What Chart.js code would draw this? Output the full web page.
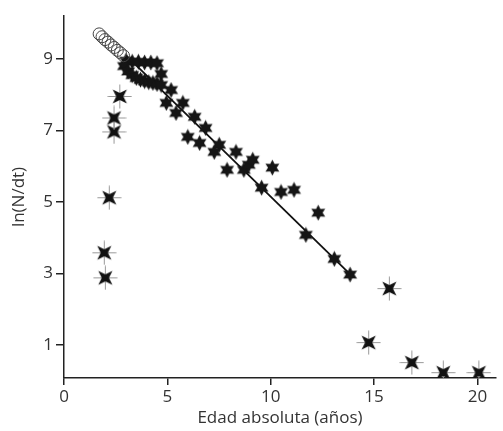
<!DOCTYPE html>
<html><head><meta charset="utf-8">
<script src="https://cdn.jsdelivr.net/npm/chart.js@4"></script>
<style>html,body{margin:0;padding:0;background:#fff;}canvas{display:block;}</style>
</head><body>
<canvas id="c" width="503" height="431"></canvas>
<script>
// Open circles (early ages)
const circleX = [1.70, 1.84, 1.98, 2.13, 2.28, 2.43, 2.58, 2.73, 2.88];
const circleY = [9.70, 9.62, 9.54, 9.47, 9.39, 9.32, 9.24, 9.17, 9.09];
// Small six-pointed stars
const starX = [3.0, 3.3, 3.6, 3.9, 4.2, 4.5,
               2.9, 3.1, 3.3, 3.5, 3.7, 3.9, 4.1, 4.3, 4.5, 4.7,
               4.7, 5.18, 4.95, 5.75, 5.42, 6.32, 6.85, 5.99, 6.56, 7.51, 7.27, 8.32,
               7.89, 8.7, 8.94, 9.13, 10.08, 9.56, 10.5, 11.13, 12.3, 11.7, 13.08, 13.84];
const starY = [8.95, 8.92, 8.92, 8.90, 8.90, 8.88,
               8.80, 8.65, 8.55, 8.47, 8.42, 8.38, 8.35, 8.33, 8.30, 8.27,
               8.58, 8.13, 7.77, 7.77, 7.49, 7.38, 7.07, 6.82, 6.65, 6.60, 6.40, 6.40,
               5.90, 5.90, 6.04, 6.18, 5.96, 5.40, 5.28, 5.34, 4.70, 4.08, 3.41, 2.97];
// Large four-pointed stars (outliers)
const bigX = [1.95, 2.00, 2.19, 2.42, 2.42, 2.70, 14.74, 15.74, 16.83, 18.35, 20.07];
const bigY = [3.58, 2.88, 5.12, 6.96, 7.35, 7.95, 1.07, 2.58, 0.51, 0.23, 0.23];
// Fitted line end points
const fitX = [3.0, 13.9];
const fitY = [9.10, 2.95];
// Axis ticks
const xTicks = [0, 5, 10, 15, 20];
const yTicks = [1, 3, 5, 7, 9];

const pts = (xs, ys) => xs.map((x, i) => ({x: x, y: ys[i]}));

function hexStar() {
  const c = document.createElement('canvas'); c.width = 17; c.height = 17;
  const g = c.getContext('2d'); g.fillStyle = '#151515'; g.beginPath();
  for (let i = 0; i < 12; i++) {
    const r = i % 2 === 0 ? 8 : 4.4; const a = -Math.PI / 2 + i * Math.PI / 6;
    const px = 8.5 + r * Math.cos(a), py = 8.5 + r * Math.sin(a);
    i ? g.lineTo(px, py) : g.moveTo(px, py);
  }
  g.closePath(); g.fill(); return c;
}
function bigStar() {
  const c = document.createElement('canvas'); c.width = 25; c.height = 25;
  const g = c.getContext('2d'); const m = 12.5;
  g.strokeStyle = '#999'; g.lineWidth = 1;
  g.beginPath(); g.moveTo(m, 0.5); g.lineTo(m, 24.5); g.moveTo(0.5, m); g.lineTo(24.5, m); g.stroke();
  g.fillStyle = '#111'; g.beginPath();
  for (let i = 0; i < 8; i++) {
    const r = i % 2 === 0 ? 10 : 3.6; const a = -Math.PI / 4 + i * Math.PI / 4;
    const px = m + r * Math.cos(a), py = m + r * Math.sin(a);
    i ? g.lineTo(px, py) : g.moveTo(px, py);
  }
  g.closePath(); g.fill(); return c;
}

const tickFont = {family: "'Open Sans', sans-serif", size: 17};
new Chart(document.getElementById('c'), {
  type: 'scatter',
  data: {datasets: [
    {data: pts(circleX, circleY), pointStyle: 'circle', pointRadius: 6, borderColor: '#444', backgroundColor: 'rgba(0,0,0,0)', borderWidth: 1, order: 0},
    {data: pts(starX, starY), pointStyle: hexStar(), order: 1},
    {data: pts(bigX, bigY), pointStyle: bigStar(), order: 2},
    {data: pts(fitX, fitY), showLine: true, pointRadius: 0, borderColor: '#111', borderWidth: 1.8, order: 3}
  ]},
  options: {
    responsive: false, animation: false,
    layout: {padding: {top: 16, right: 0, left: 0, bottom: 0}},
    plugins: {legend: {display: false}, tooltip: {enabled: false}},
    scales: {
      x: {
        type: 'linear', min: 0, max: 20.9,
        afterBuildTicks: s => { s.ticks = xTicks.map(v => ({value: v})); },
        afterFit: s => { s.height = 53; },
        grid: {drawOnChartArea: false, drawTicks: true, tickLength: 7, color: '#222', lineWidth: 1.5},
        border: {display: true, color: '#222', width: 1.5},
        ticks: {font: tickFont, color: '#333', padding: 2, maxRotation: 0},
        title: {display: true, text: 'Edad absoluta (años)', font: tickFont, color: '#333', padding: {top: 0, bottom: 3}}
      },
      y: {
        type: 'linear', min: 0.08, max: 10.2,
        afterBuildTicks: s => { s.ticks = yTicks.map(v => ({value: v})); },
        afterFit: s => { s.width = 64; },
        grid: {drawOnChartArea: false, drawTicks: true, tickLength: 8, color: '#222', lineWidth: 1.5},
        border: {display: true, color: '#222', width: 1.5},
        ticks: {font: tickFont, color: '#333', padding: 3},
        title: {display: true, text: 'ln(N/dt)', font: tickFont, color: '#333', padding: {top: 9, bottom: 0}}
      }
    }
  }
});
</script>
</body></html>
